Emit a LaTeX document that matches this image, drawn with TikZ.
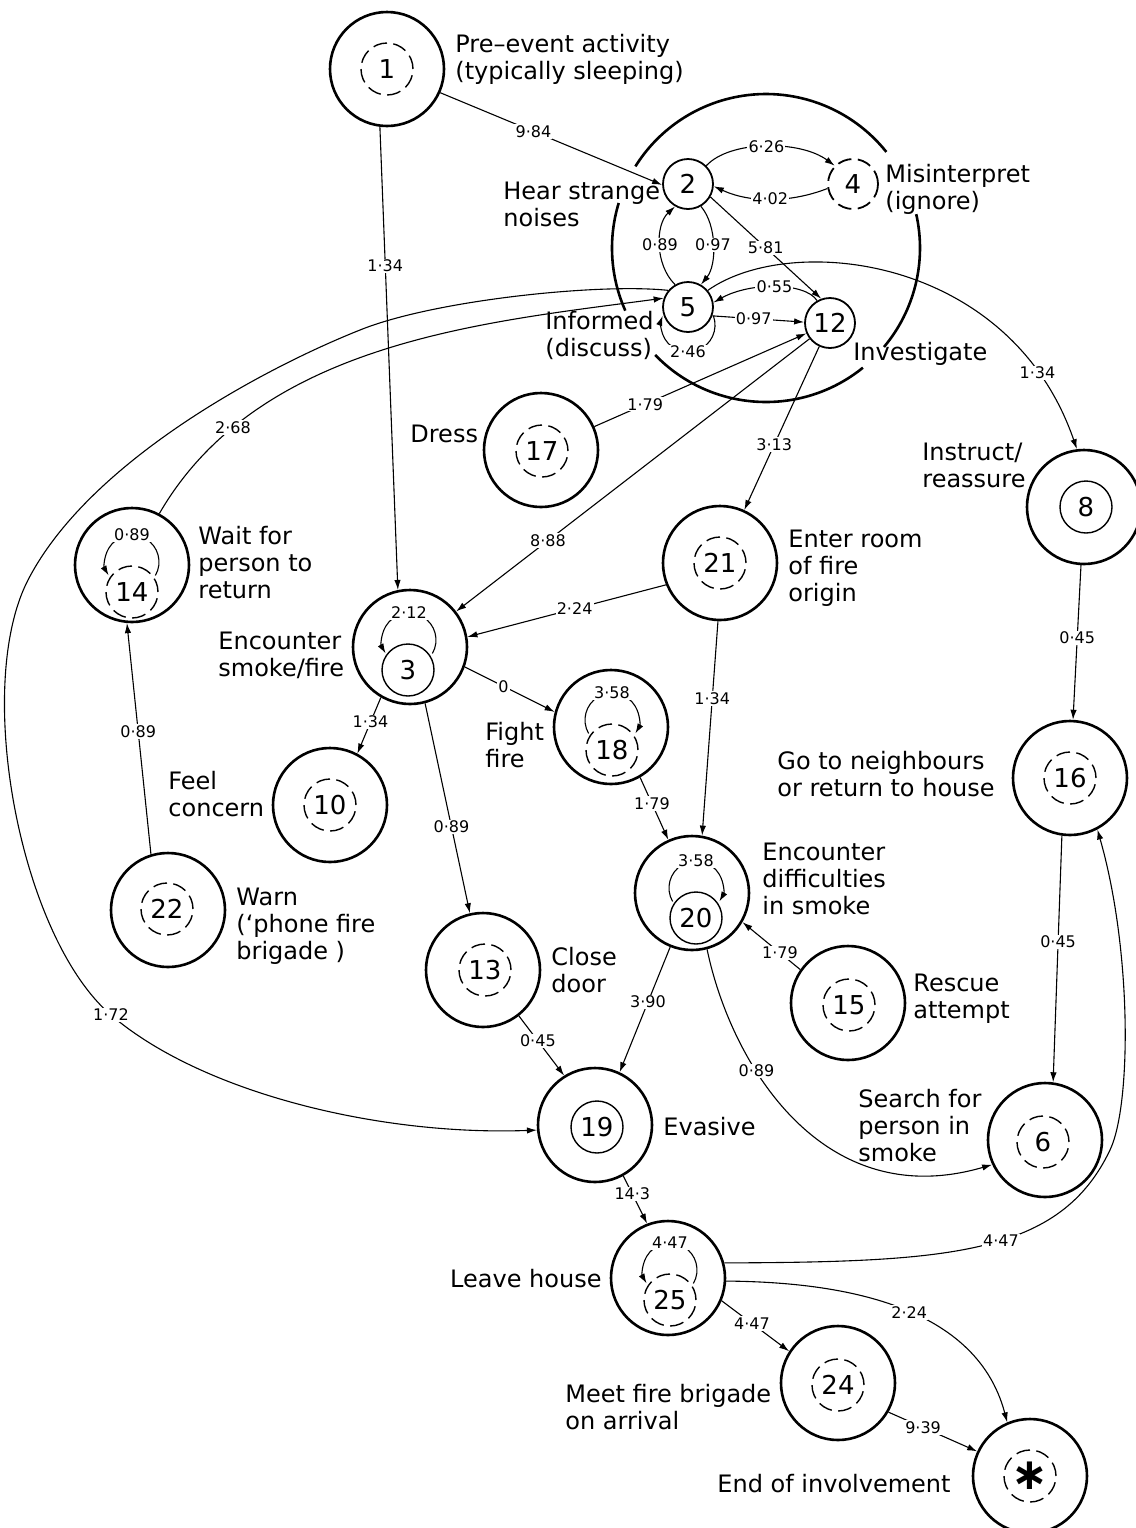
\documentclass[tikz,border=0pt]{standalone}
\usepackage{fontspec}
\setmainfont{DejaVu Sans}
\usetikzlibrary{arrows.meta}
\newcommand\captfont{\fontsize{12}{13.5}\selectfont}
\newcommand\lblfont{\fontsize{8}{9}\selectfont}
\newcommand\nodenumfont{\fontsize{13}{14}\selectfont}
\tikzset{
  outer/.style={circle, draw, line width=1.3pt, minimum size=57pt, inner sep=0pt},
  ind/.style={circle, draw, line width=0.7pt, dash pattern=on 7pt off 3.2pt, minimum size=26pt, inner sep=0pt, font=\nodenumfont},
  ins/.style={circle, draw, line width=0.7pt, minimum size=26pt, inner sep=0pt, font=\nodenumfont},
  smalls/.style={circle, draw, line width=0.9pt, minimum size=25pt, inner sep=0pt, font=\nodenumfont},
  smalld/.style={smalls, dash pattern=on 7pt off 3.2pt},
  edge/.style={line width=0.55pt, -{Latex[length=5pt,width=3.2pt]}},
  lab/.style={font=\lblfont, fill=white, inner sep=0.6pt},
  txt/.style={font=\captfont, align=left, anchor=west, inner sep=0pt},
  ring/.style={line width=1.3pt},
}
\begin{document}
\begin{tikzpicture}[x=0.5pt,y=-0.5pt]
\fill[white] (0,0) rectangle (1136,1528);
\useasboundingbox (0,0) rectangle (1136,1528);

% enclosing ring around the early states (broken where captions cross it)
\coordinate (ringc) at (766,248);
\draw[ring] (ringc) ++(-38.6:154) arc[start angle=-38.6, end angle=-148, radius=154];
\draw[ring] (ringc) ++(-163:154) arc[start angle=-163, end angle=-204, radius=154];
\draw[ring] (ringc) ++(-224:154) arc[start angle=-224, end angle=-309, radius=154];
\draw[ring] (ringc) ++(-320:154) arc[start angle=-320, end angle=-372.7, radius=154];

% states
\node[outer] (n1) at (387,69) {};      \node[ind] (n1i) at (387,69) {1};
\node[smalls] (n2) at (688,184) {2};
\node[smalld] (n4) at (853,184) {4};
\node[smalls] (n5) at (688,307) {5};
\node[smalls] (n12) at (830,323) {12};
\node[outer] (n17) at (541,450) {};    \node[ind] (n17i) at (542,451) {17};
\node[outer] (n8) at (1084,507) {};    \node[ins] (n8i) at (1086,507) {8};
\node[outer] (n14) at (132,565) {};    \node[ind] (n14i) at (132,592) {14};
\node[outer] (n21) at (720,563) {};    \node[ind] (n21i) at (720,563) {21};
\node[outer] (n3) at (410,647) {};     \node[ins] (n3i) at (408,670) {3};
\node[outer] (n18) at (611,727) {};    \node[ind] (n18i) at (612,750) {18};
\node[outer] (n16) at (1070,778) {};   \node[ind] (n16i) at (1070,778) {16};
\node[outer] (n10) at (330,805) {};    \node[ind] (n10i) at (330,805) {10};
\node[outer] (n20) at (692,893) {};    \node[ins] (n20i) at (696,918) {20};
\node[outer] (n22) at (168,910) {};    \node[ind] (n22i) at (167,909) {22};
\node[outer] (n13) at (483,970) {};    \node[ind] (n13i) at (485,970) {13};
\node[outer] (n15) at (848,1003) {};   \node[ind] (n15i) at (849,1005) {15};
\node[outer] (n19) at (595,1125) {};   \node[ins] (n19i) at (597,1127) {19};
\node[outer] (n6) at (1045,1140) {};   \node[ind] (n6i) at (1043,1142) {6};
\node[outer] (n25) at (668,1278) {};   \node[ind] (n25i) at (670,1300) {25};
\node[outer] (n24) at (838,1383) {};   \node[ind] (n24i) at (838,1385) {24};
\node[outer] (nend) at (1030,1476) {}; \node[ind] (nendi) at (1030,1476) {\fontsize{22}{22}\selectfont\bfseries ∗};

% captions
\node[txt] (t1) at (455,59.5) {Pre–event activity\\(typically sleeping)};
\node[txt] (t2) at (503,204) {Hear strange\\noises};
\node[txt] (t4) at (885,189) {Misinterpret\\(ignore)};
\node[txt] (t5) at (545,335) {Informed\\(discuss)};
\node[txt] (t12) at (853,354) {Investigate};
\node[txt] (t17) at (410,434) {Dress};
\node[txt] (t8) at (922,465) {Instruct/\\reassure};
\node[txt] (t14) at (198,563) {Wait for\\person to\\return};
\node[txt] (t21) at (788,568) {Enter room\\of fire\\origin};
\node[txt] (t3) at (218,655) {Encounter\\smoke/fire};
\node[txt] (t18) at (485,745) {Fight\\fire};
\node[txt] (t16) at (777,774) {Go to neighbours\\or return to house};
\node[txt] (t10) at (168,794) {Feel\\concern};
\node[txt] (t20) at (762,879) {Encounter\\difficulties\\in smoke};
\node[txt] (t22) at (236,926) {Warn\\(‘phone fire\\brigade )};
\node[txt] (t13) at (551,970) {Close\\door};
\node[txt] (t15) at (913,999) {Rescue\\attempt};
\node[txt] (t19) at (663,1127) {Evasive};
\node[txt] (t6) at (858,1126) {Search for\\person in\\smoke};
\node[txt,anchor=east] (t25) at (602,1279) {Leave house};
\node[txt] (t24) at (565,1407) {Meet fire brigade\\on arrival};
\node[txt] (tend) at (717,1484) {End of involvement};

% transitions inside the ring
\draw[edge] (n1.-24) -- node[lab,pos=0.42]{9·84} (n2.182);
\draw[edge] (n2.45) .. controls (730,140) and (800,140) .. node[lab,pos=0.5]{6·26} (n4.135);
\draw[edge] (n4.190) .. controls (790,203) and (750,203) .. node[lab,pos=0.5]{4·02} (n2.355);
\draw[edge] (n2.-30) -- node[lab,pos=0.5]{5·81} (n12.110);
\draw[edge] (n5.120) .. controls (655,265) and (655,225) .. node[lab,pos=0.5]{0·89} (n2.240);
\draw[edge] (n2.300) .. controls (717,225) and (717,265) .. node[lab,pos=0.5]{0·97} (n5.60);
\draw[edge] (n12.120) .. controls (805,282) and (750,282) .. node[lab,pos=0.5]{0·55} (n5.10);
\draw[edge] (n5.-20) -- node[lab,pos=0.45]{0·97} (n12.178);
\draw[edge] (n5) ++(25.4,8.8) arc[start angle=-20, end angle=200, radius=27];
\path (n5) ++(0,45) node[lab] (l5) {2·46};

% transitions from the top states
\draw[edge] (n1.263) -- node[lab,pos=0.3]{1·34} (n3.102);
\draw[edge] (n17) -- node[lab,pos=0.24]{1·79} (n12);
\draw[edge] (n12) -- node[lab,pos=0.74]{8·88} (n3);
\draw[edge] (n12) -- node[lab,pos=0.6]{3·13} (n21);
\draw[edge] (n5.40) .. controls (790,232) and (1010,255) .. node[lab,pos=0.85]{1·34} (n8.97);
\draw[edge] (n14.62) .. controls (258.8,341.5) and (486,322) .. node[lab,pos=0.2]{2·68} (n5.160);
\draw[edge] (n5.140) .. controls (600,283) and (434,300) .. (360,330)
   .. controls (267,367) and (90,460) .. (28,580)
   .. controls (-27,687) and (20,937) .. (111,1015) node[lab] (l172) {1·72}
   .. controls (202,1093) and (380,1136) .. (n19.185);

% middle of the network
\draw[edge] (n21.202) -- node[lab,pos=0.46]{2·24} (n3.10);
\draw[edge] (n3.-20) -- node[lab,pos=0.43]{0} (n18.165);
\draw[edge] (n3.240) -- node[lab,pos=0.44]{1·34} (n10.62);
\draw[edge] (n3.-75) -- node[lab,pos=0.59]{0·89} (n13.103);
\draw[edge] (n21.-92) -- node[lab,pos=0.36]{1·34} (n20.80);
\draw[edge] (n18.-60) -- node[lab,pos=0.42]{1·79} (n20.114);
\draw[edge] (n15.145) -- node[lab,pos=0.35]{1·79} (n20.-30);
\draw[edge] (n20.-112) -- node[lab,pos=0.44]{3·90} (n19.65);
\draw[edge] (n13.-52) -- node[lab,pos=0.42]{0·45} (n19.122);
\draw[edge] (n20.-75) .. controls (730,1060) and (820,1215) .. node[lab,pos=0.35]{0·89} (n6.205);
\draw[edge] (n8) -- node[lab,pos=0.47]{0·45} (n16);
\draw[edge] (n16.-98) -- node[lab,pos=0.43]{0·45} (n6.82);
\draw[edge] (n22.107) -- node[lab,pos=0.53]{0·89} (n14.-95);

% leaving the house
\draw[edge] (n19.-61) -- node[lab,pos=0.38]{14·3} (n25.111);
\draw[edge] (n25.-23) -- node[lab,pos=0.45]{4·47} (n24.147);
\draw[edge] (n25.-3) .. controls (830,1282) and (975,1300) .. node[lab,pos=0.55]{2·24} (nend.113);
\draw[edge] (n24.-30) -- node[lab,pos=0.39]{9·39} (nend.155);
\draw[edge] (n25.15) .. controls (950,1262) and (1060,1255) .. node[lab,pos=0.55]{4·47} (1110,1150)
   .. controls (1131.5,1105) and (1132,950) .. (n16.-62);

% repeated states (self loops)
\draw[edge] (n14i) ++(0,-30) ++(30:27) arc[start angle=30, end angle=-210, radius=27];
\path (n14i) ++(0,-57) node[lab] (l14) {0·89};
\draw[edge] (n3i) ++(1,-30) ++(30:27) arc[start angle=30, end angle=-210, radius=27];
\path (n3i) ++(1,-57) node[lab] (l3) {2·12};
\draw[edge] (n18i) ++(0,-30) ++(150:27) arc[start angle=150, end angle=390, radius=27];
\path (n18i) ++(0,-57) node[lab] (l18) {3·58};
\draw[edge] (n20i) ++(0,-30) ++(150:27) arc[start angle=150, end angle=390, radius=27];
\path (n20i) ++(0,-57) node[lab] (l20) {3·58};
\draw[edge] (n25i) ++(0,-30) ++(30:27) arc[start angle=30, end angle=-210, radius=27];
\path (n25i) ++(0,-57) node[lab] (l25) {4·47};
\end{tikzpicture}
\end{document}
